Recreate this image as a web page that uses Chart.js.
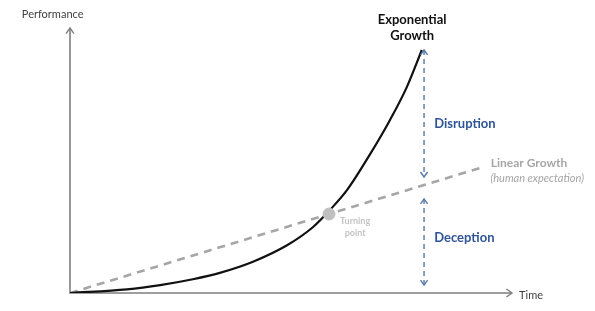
<!DOCTYPE html>
<html>
<head>
<meta charset="utf-8">
<script src="https://cdn.jsdelivr.net/npm/chart.js@4/dist/chart.umd.min.js"></script>
<style>
    html, body { margin: 0; padding: 0; background: #fff; }
    canvas { display: block; }
</style>
</head>
<body>
<canvas id="growth-chart" width="595" height="311"></canvas>
<script>
'use strict';

// time axis goes 0..100, performance axis 0..100
var curveTime = [0, 12.9, 20.4, 27.8, 33.9, 41.4, 49.1, 55.0, 58.8, 62.7, 67.9, 72.4, 76.2, 79.6];
var curveValues = [0, 1.4, 3.0, 5.2, 7.6, 11.8, 18.0, 24.9, 31.3, 38.9, 52.4, 65.3, 77.7, 91.7];

var linearTime = [0, 93.4];
var linearValues = [0, 47.5];

var turningPoint = [58.6, 29.8];

var gapTime = 80.1;
var disruptionRange = [91.7, 43.8];
var deceptionRange = [35.5, 3.0];

var FONT = 'Lato, "Open Sans", sans-serif';
var AXIS_COLOR = '#7f7f7f';
var BLUE = '#2f5597';
var BLUE_LINE = '#5677a8';
var GREY = '#a6a6a6';

function toPoints(xs, ys) {
    return xs.map(function(x, i) { return { x: x, y: ys[i] }; });
}

function chevron(ctx, x, y, dir, size) {
    // dir: 'up', 'down', 'right'
    ctx.beginPath();
    if (dir === 'up') {
        ctx.moveTo(x - size, y + size * 1.4);
        ctx.lineTo(x, y);
        ctx.lineTo(x + size, y + size * 1.4);
    } else if (dir === 'down') {
        ctx.moveTo(x - size, y - size * 1.4);
        ctx.lineTo(x, y);
        ctx.lineTo(x + size, y - size * 1.4);
    } else {
        ctx.moveTo(x - size * 1.4, y - size);
        ctx.lineTo(x, y);
        ctx.lineTo(x - size * 1.4, y + size);
    }
    ctx.stroke();
}

var axesPlugin = {
    id: 'axesArrows',
    beforeDatasetsDraw: function(chart) {
        var ctx = chart.ctx;
        var xs = chart.scales.x;
        var ys = chart.scales.y;
        var x0 = xs.getPixelForValue(0);
        var y0 = ys.getPixelForValue(0);
        var yTop = ys.getPixelForValue(100);
        var xEnd = xs.getPixelForValue(100);

        ctx.save();
        ctx.strokeStyle = AXIS_COLOR;
        ctx.lineWidth = 1.6;
        ctx.beginPath();
        ctx.moveTo(x0, yTop);
        ctx.lineTo(x0, y0);
        ctx.lineTo(xEnd, y0);
        ctx.stroke();
        ctx.lineWidth = 1.4;
        chevron(ctx, x0, yTop, 'up', 4);
        chevron(ctx, xEnd, y0, 'right', 4);
        ctx.restore();
    }
};

var labelsPlugin = {
    id: 'chartLabels',
    afterDatasetsDraw: function(chart) {
        var ctx = chart.ctx;
        var xs = chart.scales.x;
        var ys = chart.scales.y;
        var px = function(v) { return xs.getPixelForValue(v); };
        var py = function(v) { return ys.getPixelForValue(v); };

        ctx.save();

        // blue arrowheads on the gap markers
        ctx.strokeStyle = BLUE_LINE;
        ctx.lineWidth = 1.4;
        chevron(ctx, px(gapTime), py(disruptionRange[0]), 'up', 3.5);
        chevron(ctx, px(gapTime), py(disruptionRange[1]), 'down', 3.5);
        chevron(ctx, px(gapTime), py(deceptionRange[0]), 'up', 3.5);
        chevron(ctx, px(gapTime), py(deceptionRange[1]), 'down', 3.5);

        ctx.textBaseline = 'middle';

        ctx.fillStyle = '#404040';
        ctx.font = '11px ' + FONT;
        ctx.textAlign = 'left';
        ctx.fillText('Performance', px(-10.9), py(105.3));
        ctx.fillText('Time', px(101.6), py(-1.1));

        ctx.fillStyle = '#111';
        ctx.font = 'bold 13px ' + FONT;
        ctx.textAlign = 'center';
        ctx.fillText('Exponential', px(77.4), py(103));
        ctx.fillText('Growth', px(77.4), py(97));

        ctx.fillStyle = BLUE;
        ctx.textAlign = 'left';
        ctx.fillText('Disruption', px(82.4), py(63.8));
        ctx.fillText('Deception', px(82.4), py(20.8));

        ctx.fillStyle = GREY;
        ctx.font = 'bold 12px ' + FONT;
        ctx.fillText('Linear Growth', px(95.2), py(49.1));
        ctx.font = 'italic 11px ' + FONT;
        ctx.textAlign = 'right';
        ctx.fillText('(human expectation)', px(116.3), py(43.4));

        ctx.fillStyle = '#c4c4c4';
        ctx.font = 'bold 9px ' + FONT;
        ctx.textAlign = 'center';
        ctx.fillText('Turning', px(64.5), py(27.2));
        ctx.fillText('point', px(64.5), py(22.6));

        ctx.restore();
    }
};

function initGrowthChart() {
    var canvas = document.getElementById('growth-chart');
    if (!canvas) return;

    new Chart(canvas, {
        type: 'line',
        data: {
            datasets: [
                {
                    label: 'Linear Growth',
                    data: toPoints(linearTime, linearValues),
                    borderColor: GREY,
                    borderWidth: 2.6,
                    borderDash: [8, 6],
                    pointRadius: 0,
                    order: 3
                },
                {
                    label: 'Exponential Growth',
                    data: toPoints(curveTime, curveValues),
                    borderColor: '#111',
                    borderWidth: 2.2,
                    cubicInterpolationMode: 'monotone',
                    pointRadius: 0,
                    order: 2
                },
                {
                    label: 'Turning point',
                    data: [{ x: turningPoint[0], y: turningPoint[1] }],
                    showLine: false,
                    pointRadius: 6,
                    pointBackgroundColor: '#c0c0c0',
                    pointBorderColor: '#c0c0c0',
                    order: 1
                },
                {
                    label: 'Disruption',
                    data: [{ x: gapTime, y: disruptionRange[0] }, { x: gapTime, y: disruptionRange[1] }],
                    borderColor: BLUE_LINE,
                    borderWidth: 1.4,
                    borderDash: [5, 4],
                    pointRadius: 0,
                    order: 4
                },
                {
                    label: 'Deception',
                    data: [{ x: gapTime, y: deceptionRange[0] }, { x: gapTime, y: deceptionRange[1] }],
                    borderColor: BLUE_LINE,
                    borderWidth: 1.4,
                    borderDash: [5, 4],
                    pointRadius: 0,
                    order: 4
                }
            ]
        },
        options: {
            responsive: false,
            animation: false,
            devicePixelRatio: 1,
            layout: {
                padding: { left: 70, right: 83, top: 28, bottom: 18 }
            },
            plugins: {
                legend: { display: false },
                tooltip: { enabled: false }
            },
            scales: {
                x: { type: 'linear', min: 0, max: 100, display: false },
                y: { type: 'linear', min: 0, max: 100, display: false }
            }
        },
        plugins: [axesPlugin, labelsPlugin]
    });
}

initGrowthChart();
</script>
</body>
</html>
